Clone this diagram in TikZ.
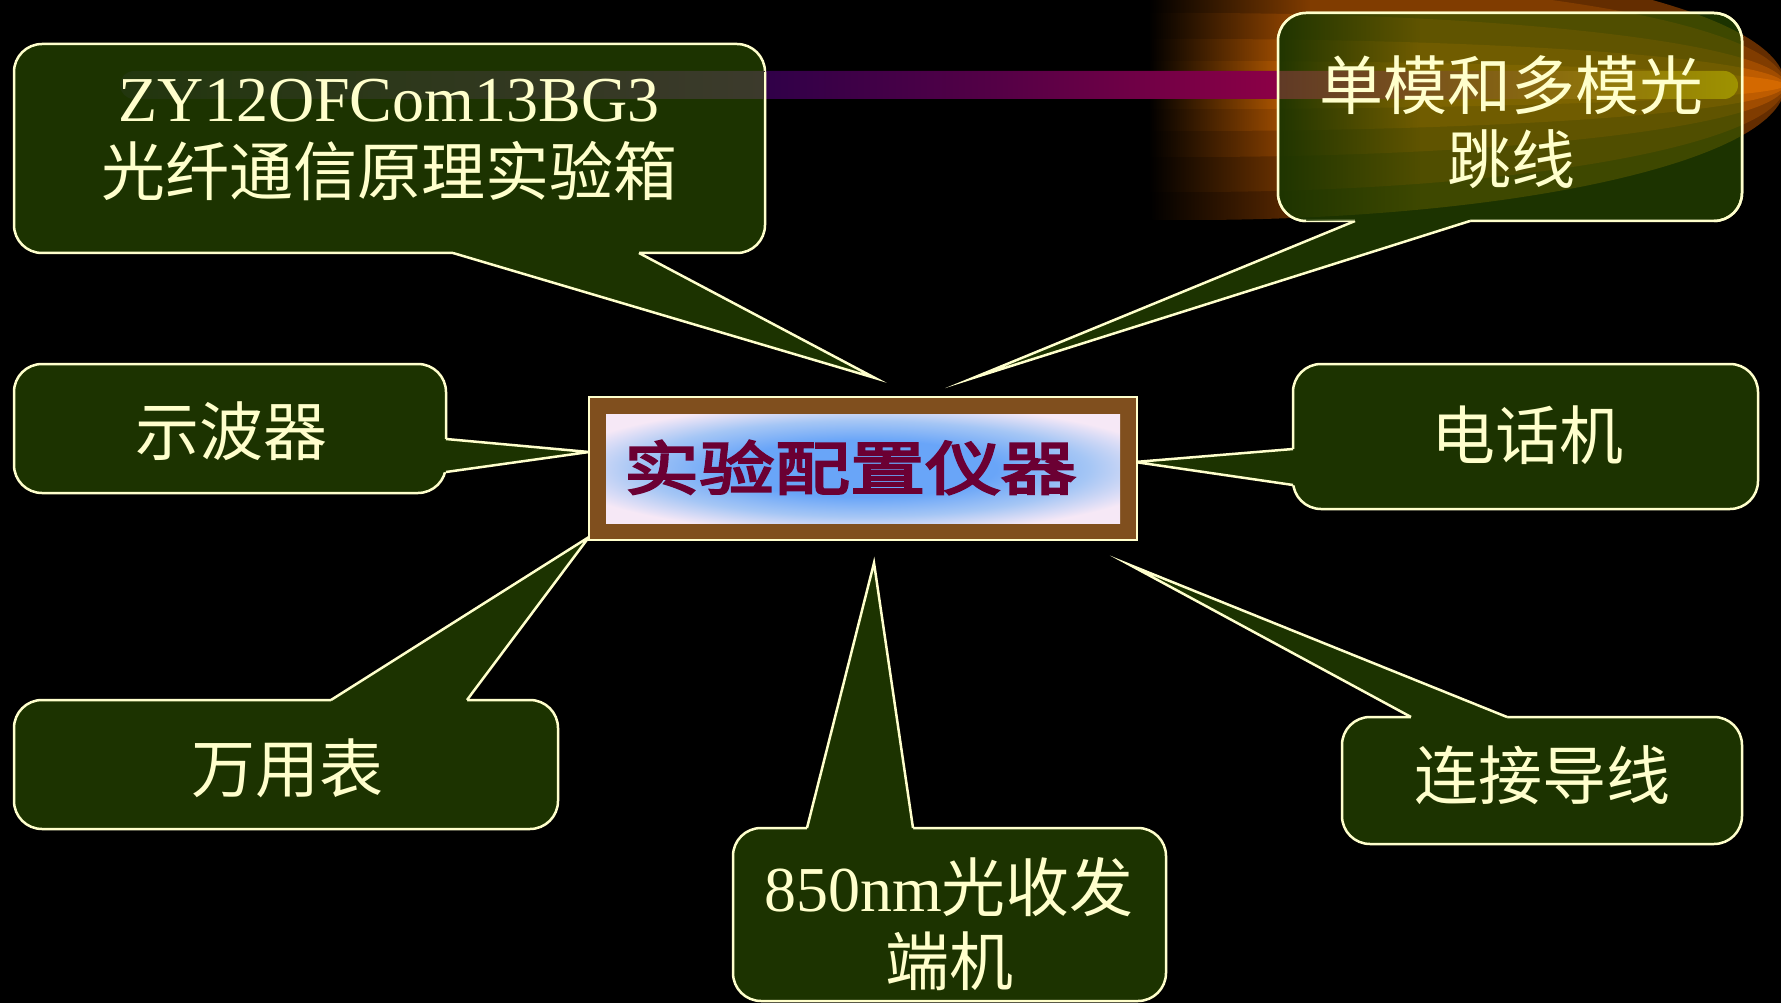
\documentclass[tikz,border=0pt]{standalone}
\usepackage{fontspec}
\setmainfont{Liberation Serif}
\newfontfamily\cjk{Noto Sans CJK SC}
\newfontfamily\hubfont[FakeBold=4,FakeStretch=1.3]{Noto Sans CJK SC}
\usetikzlibrary{calc,fadings}
\definecolor{boxgreen}{RGB}{28,51,0}
\definecolor{cream}{RGB}{255,255,204}
\definecolor{framebrown}{RGB}{128,79,30}
\definecolor{panelblue}{RGB}{105,165,248}
\definecolor{panelmid}{RGB}{165,198,245}
\definecolor{panelpink}{RGB}{246,232,246}
\definecolor{hubtext}{RGB}{107,0,51}
\definecolor{glowA}{RGB}{100,45,0}
\definecolor{glowB}{RGB}{128,60,0}
\definecolor{glowC}{RGB}{160,76,0}
\definecolor{glowD}{RGB}{190,92,0}
\definecolor{glowE}{RGB}{212,105,0}
\definecolor{oliveA}{RGB}{62,72,0}
\definecolor{oliveB}{RGB}{80,78,0}
\definecolor{oliveC}{RGB}{96,84,0}
\definecolor{oliveD}{RGB}{112,92,0}
\definecolor{oliveE}{RGB}{125,100,0}
\definecolor{barA}{RGB}{48,0,72}
\definecolor{barB}{RGB}{85,0,70}
\definecolor{barC}{RGB}{140,0,70}
\definecolor{barD}{RGB}{200,110,0}
\definecolor{boA}{RGB}{34,54,14}
\definecolor{boB}{RGB}{60,58,44}
\definecolor{btA}{RGB}{96,58,38}
\definecolor{btB}{RGB}{118,78,30}
\definecolor{btC}{RGB}{138,108,15}
\definecolor{btD}{RGB}{158,146,0}
\pgfdeclarehorizontalshading{barmain}{100bp}{color(0bp)=(black); color(25bp)=(black); color(44.93bp)=(barA); color(52.19bp)=(barB); color(60.79bp)=(barC); color(75bp)=(barD); color(100bp)=(barD)}
\pgfdeclarehorizontalshading{barone}{100bp}{color(0bp)=(boA); color(25bp)=(boA); color(44.93bp)=(boB); color(100bp)=(boB)}
\pgfdeclarehorizontalshading{bartwo}{100bp}{color(0bp)=(btA); color(60.79bp)=(btA); color(64.55bp)=(btB); color(69.19bp)=(btC); color(75bp)=(btD); color(100bp)=(btD)}
\pgfdeclareradialshading{panelshade}{\pgfpoint{0bp}{0bp}}{color(0bp)=(panelblue); color(13bp)=(panelblue); color(22bp)=(panelmid); color(30bp)=(panelpink); color(50bp)=(panelpink)}
\pgfdeclarelayer{bg}
\pgfdeclarelayer{shapes}
\pgfdeclarelayer{over}
\pgfsetlayers{bg,shapes,over,main}
\newcommand{\callptr}[4]{%
  \fill[boxgreen] ($(#1)+(#4)$) -- (#1) -- (#3) -- (#2) -- ($(#2)+(#4)$) -- cycle;
  \draw[rim] (#1) -- (#3) -- (#2);}
\begin{document}
\begin{tikzpicture}[x=1pt,y=-1pt,
  boxshape/.style={rectangle, rounded corners=28pt, fill=boxgreen, draw=cream, line width=2.5pt, inner sep=0pt, outer sep=0pt},
  rim/.style={draw=cream, line width=2.5pt, line join=miter, miter limit=30},
  lbl/.style={text=cream, font=\fontsize{64pt}{74pt}\selectfont, align=center, inner sep=0pt},
  hubframe/.style={rectangle, fill=framebrown, draw=cream, line width=2pt, inner sep=0pt, outer sep=0pt},
  glowell/.style={x radius=595, y radius=#1},
]
\useasboundingbox (0,0) rectangle (1781,1003);

% texts
\node[lbl] (c1t) at (389,140) {ZY12OFCom13BG3\\{\cjk 光纤通信原理实验箱}};
\node[lbl] (c2t) at (1511,122) {{\cjk 单模和多模光}\\{\cjk 跳线}};
\node[lbl] (c3t) at (231,431) {\cjk 示波器};
\node[lbl] (c4t) at (287,768) {\cjk 万用表};
\node[lbl] (c5t) at (1527,435) {\cjk 电话机};
\node[lbl] (c6t) at (1542,775) {\cjk 连接导线};
\node[lbl] (c7t) at (949,924) {850nm{\cjk 光收发}\\{\cjk 端机}};
\node[font=\hubfont\fontsize{58pt}{60pt}\selectfont, text=hubtext, inner sep=0pt] (hubt) at (850,467.5) {实验配置仪器};

\coordinate (t1) at (875,378);
\coordinate (t2) at (973,378);
\coordinate (t3) at (589,452);
\coordinate (t4) at (589,537);
\coordinate (t5) at (1135,462);
\coordinate (t6) at (1130,565);
\coordinate (t7) at (874,563);

\begin{pgfonlayer}{shapes}
  \node[boxshape, minimum width=751pt, minimum height=209pt] (c1) at (389.5,148.5) {};
  \node[boxshape, minimum width=464pt, minimum height=208pt] (c2) at (1510,117) {};
  \node[boxshape, minimum width=432pt, minimum height=129pt] (c3) at (230,428.5) {};
  \node[boxshape, minimum width=544pt, minimum height=129pt] (c4) at (286,764.5) {};
  \node[boxshape, minimum width=465pt, minimum height=145pt] (c5) at (1525.5,436.5) {};
  \node[boxshape, minimum width=400pt, minimum height=127pt] (c6) at (1542,780.5) {};
  \node[boxshape, minimum width=433pt, minimum height=173pt] (c7) at (949.5,914.5) {};

  \coordinate (b1a) at (453,0 |- c1.south);  \coordinate (b1b) at (639,0 |- c1.south);
  \coordinate (b2a) at (1355,0 |- c2.south); \coordinate (b2b) at (1470,0 |- c2.south);
  \coordinate (b3a) at (c3.east |- 0,439);   \coordinate (b3b) at (c3.east |- 0,472);
  \coordinate (b4a) at (331,0 |- c4.north);  \coordinate (b4b) at (467,0 |- c4.north);
  \coordinate (b5a) at (c5.west |- 0,449);   \coordinate (b5b) at (c5.west |- 0,485);
  \coordinate (b6a) at (1411,0 |- c6.north); \coordinate (b6b) at (1507,0 |- c6.north);
  \coordinate (b7a) at (807,0 |- c7.north);  \coordinate (b7b) at (913,0 |- c7.north);

  \callptr{b1a}{b1b}{t1}{0,-3}
  \callptr{b2a}{b2b}{t2}{0,-3}
  \callptr{b3a}{b3b}{t3}{-3,0}
  \callptr{b4a}{b4b}{t4}{0,3}
  \callptr{b5a}{b5b}{t5}{3,0}
  \callptr{b6a}{b6b}{t6}{0,3}
  \callptr{b7a}{b7b}{t7}{0,3}

  \node[hubframe, minimum width=548pt, minimum height=143pt] (hub) at (863,468.5) {};
  \shade[shading=panelshade]
    ($(hub.south west)+(17,-17)$) rectangle ($(hub.north east)+(-17,17)$);
\end{pgfonlayer}

\begin{pgfonlayer}{bg}
  \fill[black] (0,0) rectangle (1781,1003);
  \begin{scope}
    \clip (0,0) rectangle (1781,1003);
    \fill[glowA] (1190,85) ellipse [glowell=135];
    \fill[glowB] (1190,85) ellipse [glowell=107];
    \fill[glowC] (1190,85) ellipse [glowell=72];
    \fill[glowD] (1190,85) ellipse [glowell=46];
    \fill[glowE] (1190,85) ellipse [glowell=24];
    \fill[black] (580,-60) rectangle (1150,240);
    \fill[black, path fading=east] (1148,-60) rectangle (1310,240);
    \shade[shading=barmain, rounded corners=14pt] (120,71) rectangle (1738,99);
  \end{scope}
\end{pgfonlayer}

\begin{pgfonlayer}{over}
  \begin{scope}
    \clip[rounded corners=28pt] (c2.south west) rectangle (c2.north east);
    \fill[oliveA] (1190,85) ellipse [glowell=135];
    \fill[oliveB] (1190,85) ellipse [glowell=107];
    \fill[oliveC] (1190,85) ellipse [glowell=72];
    \fill[oliveD] (1190,85) ellipse [glowell=46];
    \fill[oliveE] (1190,85) ellipse [glowell=24];
    \fill[boxgreen, path fading=east] (1270,0) rectangle (1420,240);
    \shade[shading=bartwo, rounded corners=14pt] (120,71) rectangle (1738,99);
  \end{scope}
  \draw[rim, rounded corners=28pt] ($(c2.south west)+(28,0)$) -- (c2.south west) -- (c2.north west) -- (c2.north east) -- (c2.south east) -- ($(c2.south east)+(-28,0)$);
  \begin{scope}
    \clip[rounded corners=28pt] (c1.south west) rectangle (c1.north east);
    \shade[shading=barone, rounded corners=14pt] (120,71) rectangle (1738,99);
  \end{scope}
  \draw[rim] ($(c1.north east)+(0,28)$) -- ($(c1.south east)+(0,-28)$);
\end{pgfonlayer}
\end{tikzpicture}
\end{document}
